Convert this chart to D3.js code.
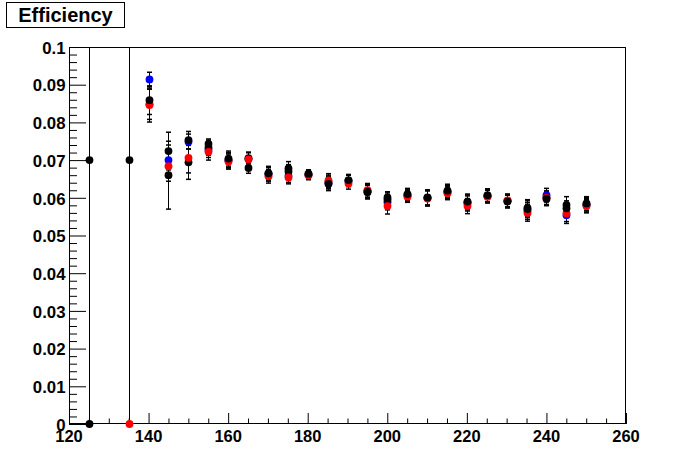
<!DOCTYPE html>
<html><head><meta charset="utf-8">
<script src="https://cdn.jsdelivr.net/npm/d3@7"></script>
<style>html,body{margin:0;padding:0;background:#fff;}svg{display:block;font-family:"Liberation Sans",Arial,sans-serif;}</style>
</head><body>
<svg id="c" width="696" height="472"></svg>
<script>
const titleText = "Efficiency";
const xValues = [125,135,140,145,150,155,160,165,170,175,180,185,190,195,200,205,210,215,220,225,230,235,240,245,250];
const blueValues  = [null,null,0.0914,0.0700,0.0749,0.0727,0.0699,0.0703,0.0662,0.0658,0.0661,0.0638,0.0645,0.0618,0.0588,0.0605,0.0600,0.0615,0.0585,0.0605,0.0592,0.0565,0.0607,0.0554,0.0580];
const blueErrors  = [0,0,0.0019,0.0040,0.0020,0.0020,0.0020,0.0018,0.0018,0.0017,0.0012,0.0018,0.0015,0.0018,0.0020,0.0015,0.0020,0.0017,0.0020,0.0017,0.0017,0.0022,0.0018,0.0022,0.0018];
const black2Values = [0.0700,0.0700,0.0848,0.0660,0.0694,0.0733,0.0700,0.0705,0.0665,0.0670,0.0662,0.0642,0.0645,0.0615,0.0595,0.0608,0.0600,0.0617,0.0588,0.0605,0.0591,0.0573,0.0600,0.0581,0.0583];
const black2Errors = [1,1,0.0040,0.0090,0.0045,0.0020,0.0020,0.0015,0.0018,0.0018,0.0012,0.0018,0.0015,0.0018,0.0018,0.0015,0.0020,0.0017,0.0020,0.0017,0.0017,0.0022,0.0018,0.0022,0.0018];
const redValues   = [null,0,0.0846,0.0684,0.0706,0.0722,0.0696,0.0702,0.0657,0.0654,0.0660,0.0646,0.0638,0.0620,0.0578,0.0603,0.0598,0.0612,0.0578,0.0603,0.0593,0.0560,0.0600,0.0559,0.0578];
const redErrors   = [0,0,0.0045,0.0040,0.0040,0.0022,0.0020,0.0018,0.0018,0.0017,0.0012,0.0018,0.0015,0.0018,0.0021,0.0015,0.0020,0.0017,0.0020,0.0017,0.0017,0.0022,0.0018,0.0022,0.0018];
const black1Values = [0,null,0.0859,0.0724,0.0753,0.0743,0.0704,0.0679,0.0665,0.0678,0.0664,0.0637,0.0647,0.0616,0.0601,0.0610,0.0601,0.0619,0.0590,0.0607,0.0590,0.0570,0.0597,0.0572,0.0585];
const black1Errors = [0,0,0.0038,0.0050,0.0023,0.0013,0.0020,0.0014,0.0018,0.0018,0.0010,0.0018,0.0015,0.0018,0.0015,0.0015,0.0020,0.0017,0.0020,0.0017,0.0017,0.0022,0.0018,0.0020,0.0018];
const yTickLabels = ["0","0.01","0.02","0.03","0.04","0.05","0.06","0.07","0.08","0.09","0.1"];
const xTickLabels = ["120","140","160","180","200","220","240","260"];

const series = [
  {values: blueValues, errors: blueErrors, color: "#0000ff"},
  {values: black2Values, errors: black2Errors, color: "#000000"},
  {values: redValues, errors: redErrors, color: "#ff0000"},
  {values: black1Values, errors: black1Errors, color: "#000000"}
];

const L = 69, R = 626, T = 47, B = 424;
const svg = d3.select("#c");
const x = d3.scaleLinear().domain([120, 260]).range([L, R]);
const y = d3.scaleLinear().domain([0, 0.1]).range([B, T]);

svg.append("defs").append("clipPath").attr("id","clip")
  .append("rect").attr("x",L).attr("y",T).attr("width",R-L).attr("height",B-T);

svg.append("rect").attr("x",L+0.5).attr("y",T+0.5).attr("width",R-L-1).attr("height",B-T-1)
  .attr("fill","none").attr("stroke","#000").attr("stroke-width",1);

const yAxis = d3.axisRight(y).tickValues(d3.range(0, 11).map(i => i/100)).tickSize(17).tickFormat("");
const yg = svg.append("g").attr("transform",`translate(${L},0)`).call(yAxis);
const yMinor = d3.axisRight(y).tickValues(d3.range(0, 51).filter(i => i%5).map(i => i/500)).tickSize(8).tickFormat("");
const ygm = svg.append("g").attr("transform",`translate(${L},0)`).call(yMinor);
[yg, ygm].forEach(g => { g.select(".domain").remove(); g.selectAll("line").attr("stroke","#000"); });
svg.append("g").selectAll("text").data(yTickLabels).join("text")
  .attr("x", L-3.5).attr("y", (d,i) => y(i/100)).attr("dy","0.4em")
  .attr("text-anchor","end").attr("font-size","16.8px").attr("font-weight","bold").text(d => d);

const xAxis = d3.axisTop(x).tickValues(d3.range(120, 261, 20)).tickSize(11).tickFormat("");
const xg = svg.append("g").attr("transform",`translate(0,${B})`).call(xAxis);
const xMinor = d3.axisTop(x).tickValues(d3.range(120, 261, 5).filter(v => v%20)).tickSize(5.5).tickFormat("");
const xgm = svg.append("g").attr("transform",`translate(0,${B})`).call(xMinor);
[xg, xgm].forEach(g => { g.select(".domain").remove(); g.selectAll("line").attr("stroke","#000"); });
svg.append("g").selectAll("text").data(xTickLabels).join("text")
  .attr("x", (d) => x(+d)).attr("y", B+18)
  .attr("text-anchor","middle").attr("font-size","16.5px").attr("font-weight","bold").text(d => d);

const eg = svg.append("g").attr("clip-path","url(#clip)");
const mg = svg.append("g");
series.forEach(s => {
  const pts = xValues.map((xv,i) => ({x: xv, v: s.values[i], e: s.errors[i]})).filter(p => p.v !== null);
  const g1 = eg.append("g");
  pts.filter(p => p.e > 0).forEach(p => {
    const cx = Math.round(x(p.x)) + 0.5;
    const y0 = y(p.v - p.e), y1 = y(p.v + p.e);
    g1.append("line").attr("x1",cx).attr("x2",cx).attr("y1",y0).attr("y2",y1).attr("stroke","#000").attr("stroke-width",1);
    if (p.e < 0.5) {
      [y0,y1].forEach(yy => g1.append("line").attr("x1",cx-2.5).attr("x2",cx+2.5).attr("y1",yy).attr("y2",yy)
        .attr("stroke","#000").attr("stroke-width",1.5));
    }
  });
  mg.append("g").selectAll("circle").data(pts).join("circle")
    .attr("cx", p => Math.round(x(p.x)) + 0.5).attr("cy", p => y(p.v)).attr("r", 3.9)
    .attr("fill", s.color);
});

svg.append("rect").attr("x",6.5).attr("y",2.5).attr("width",118).attr("height",25)
  .attr("fill","#fff").attr("stroke","#000").attr("stroke-width",1);
svg.append("text").attr("x",65.5).attr("y",21.5).attr("text-anchor","middle")
  .attr("font-size","20px").attr("font-weight","bold").text(titleText);
</script>
</body></html>
